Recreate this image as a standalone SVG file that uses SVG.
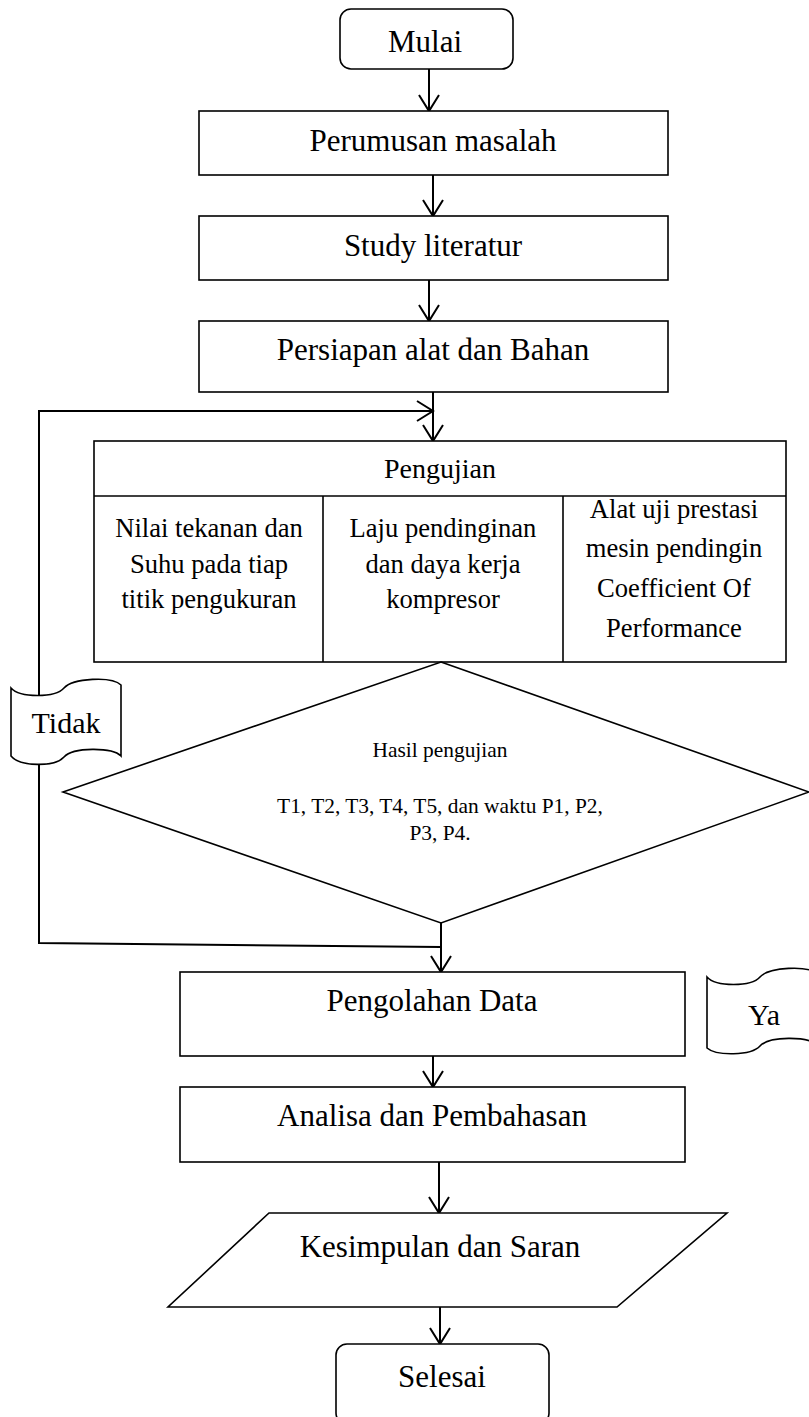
<svg xmlns="http://www.w3.org/2000/svg" width="809" height="1417" viewBox="0 0 809 1417">
<style>
.box{fill:#fff;stroke:#000;stroke-width:1.6}
.ln{fill:none;stroke:#000;stroke-width:2}
.t{font-family:"Liberation Serif","Times New Roman",serif;fill:#000;text-anchor:middle}
.big{font-size:31px}
.mid{font-size:26.6px}
.sm{font-size:21.4px}
</style>
<defs>
<marker id="arr" markerUnits="userSpaceOnUse" markerWidth="20" markerHeight="22" viewBox="0 0 18 22" refX="17" refY="11" orient="auto">
<path d="M1,1 L17,11 L1,21" fill="none" stroke="#000" stroke-width="2"/>
</marker>
</defs>
<rect width="809" height="1417" fill="#fff"/>
<g id="connectors">
<line class="ln" x1="429" y1="69" x2="429" y2="111" marker-end="url(#arr)"/>
<line class="ln" x1="433" y1="175" x2="433" y2="216" marker-end="url(#arr)"/>
<line class="ln" x1="429" y1="280" x2="429" y2="321" marker-end="url(#arr)"/>
<line class="ln" x1="433" y1="392" x2="433" y2="441" marker-end="url(#arr)"/>
<path class="ln" d="M441,947 L39,943 L39,411 L433,411" marker-end="url(#arr)"/>
<line class="ln" x1="441" y1="923" x2="441" y2="972" marker-end="url(#arr)"/>
<line class="ln" x1="433" y1="1056" x2="433" y2="1087" marker-end="url(#arr)"/>
<line class="ln" x1="439" y1="1162" x2="439" y2="1213" marker-end="url(#arr)"/>
<line class="ln" x1="440" y1="1307" x2="440" y2="1344" marker-end="url(#arr)"/>
</g>
<g id="mulai">
<rect class="box" x="340" y="9" width="173" height="60" rx="11"/>
<text class="t big" x="425" y="52">Mulai</text>
</g>
<g id="perumusan">
<rect class="box" x="199" y="111" width="469" height="64"/>
<text class="t big" x="433" y="151">Perumusan masalah</text>
</g>
<g id="study">
<rect class="box" x="199" y="216" width="469" height="64"/>
<text class="t big" x="433" y="256">Study literatur</text>
</g>
<g id="persiapan">
<rect class="box" x="199" y="321" width="469" height="71"/>
<text class="t big" x="433" y="360">Persiapan alat dan Bahan</text>
</g>
<g id="pengujian">
<rect class="box" x="94" y="441" width="692" height="221"/>
<line class="ln" style="stroke-width:1.6" x1="94" y1="496" x2="786" y2="496"/>
<line class="ln" style="stroke-width:1.6" x1="323" y1="496" x2="323" y2="662"/>
<line class="ln" style="stroke-width:1.6" x1="563" y1="496" x2="563" y2="662"/>
<text class="t" style="font-size:28px" x="440" y="478">Pengujian</text>
<text class="t mid" x="209" y="537">Nilai tekanan dan</text>
<text class="t mid" x="209" y="573">Suhu pada tiap</text>
<text class="t mid" x="209" y="608">titik pengukuran</text>
<text class="t mid" x="443" y="537">Laju pendinginan</text>
<text class="t mid" x="443" y="573">dan daya kerja</text>
<text class="t mid" x="443" y="608">kompresor</text>
<text class="t mid" x="674" y="518">Alat uji prestasi</text>
<text class="t mid" x="674" y="557">mesin pendingin</text>
<text class="t mid" x="674" y="597">Coefficient Of</text>
<text class="t mid" x="674" y="637">Performance</text>
</g>
<g id="hasil">
<polygon class="box" points="441,662 809,792 441,923 63,792"/>
<text class="t sm" x="440" y="757">Hasil pengujian</text>
<text class="t sm" x="440" y="813">T1, T2, T3, T4, T5, dan waktu P1, P2,</text>
<text class="t sm" x="440" y="840">P3, P4.</text>
</g>
<g id="tidak">
<path class="box" d="M11,688 C20,698 55,698 64,688 C73,678 112,676 121,685 L121,756 C112,747 73,747 64,757 C55,767 20,767 11,756 Z"/>
<text class="t" style="font-size:30px" x="66" y="733">Tidak</text>
</g>
<g id="pengolahan">
<rect class="box" x="180" y="972" width="505" height="84"/>
<text class="t big" x="432" y="1011">Pengolahan Data</text>
</g>
<g id="ya">
<path class="box" d="M707,977 C716,987 751,987 760,977 C769,967 808,965 817,974 L817,1045 C808,1036 769,1036 760,1046 C751,1056 716,1056 707,1048 Z"/>
<text class="t" style="font-size:30px" x="764" y="1025">Ya</text>
</g>
<g id="analisa">
<rect class="box" x="180" y="1087" width="505" height="75"/>
<text class="t big" x="432" y="1126">Analisa dan Pembahasan</text>
</g>
<g id="kesimpulan">
<polygon class="box" points="269,1213 727,1213 617,1307 168,1307"/>
<text class="t big" x="440" y="1257">Kesimpulan dan Saran</text>
</g>
<g id="selesai">
<rect class="box" x="336" y="1344" width="213" height="80" rx="11"/>
<text class="t big" x="442" y="1387">Selesai</text>
</g>
</svg>
